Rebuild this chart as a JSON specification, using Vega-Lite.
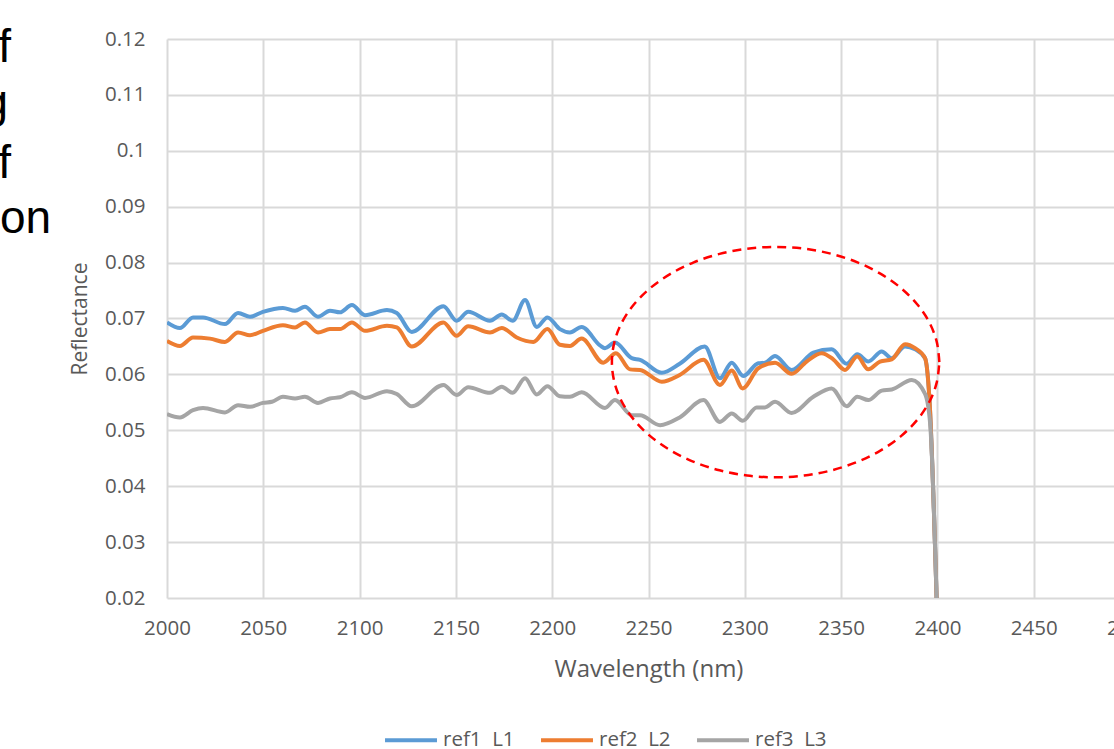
{
  "$schema": "https://vega.github.io/schema/vega-lite/v6.json",
  "autosize": {"type": "none"},
  "padding": {"left": 167, "top": 39, "right": 0, "bottom": 151},
  "width": 963,
  "height": 559,
  "background": "white",
  "config": {
    "view": {"stroke": null},
    "axis": {
      "labelFont": "Open Sans", "labelFontSize": 20.5, "labelColor": "#595959",
      "titleFont": "Open Sans", "titleFontSize": 21, "titleColor": "#595959", "titleFontWeight": "normal",
      "gridColor": "#D9D9D9", "gridWidth": 2, "domain": false, "ticks": false,
      "labelFlush": false, "labelBound": false, "labelOverlap": false
    }
  },
  "datasets": {
    "spectra": [
      {"wl": 2000, "r": 0.0693, "s": "ref1\u00a0\u00a0L1"},
      {"wl": 2006.7, "r": 0.0683, "s": "ref1\u00a0\u00a0L1"},
      {"wl": 2013.5, "r": 0.0702, "s": "ref1\u00a0\u00a0L1"},
      {"wl": 2018.7, "r": 0.0702, "s": "ref1\u00a0\u00a0L1"},
      {"wl": 2030.1, "r": 0.0690, "s": "ref1\u00a0\u00a0L1"},
      {"wl": 2036.9, "r": 0.0710, "s": "ref1\u00a0\u00a0L1"},
      {"wl": 2043.1, "r": 0.0703, "s": "ref1\u00a0\u00a0L1"},
      {"wl": 2049.8, "r": 0.0712, "s": "ref1\u00a0\u00a0L1"},
      {"wl": 2060.2, "r": 0.0719, "s": "ref1\u00a0\u00a0L1"},
      {"wl": 2066.5, "r": 0.0714, "s": "ref1\u00a0\u00a0L1"},
      {"wl": 2071.6, "r": 0.0721, "s": "ref1\u00a0\u00a0L1"},
      {"wl": 2078.4, "r": 0.0703, "s": "ref1\u00a0\u00a0L1"},
      {"wl": 2084.6, "r": 0.0714, "s": "ref1\u00a0\u00a0L1"},
      {"wl": 2089.8, "r": 0.0711, "s": "ref1\u00a0\u00a0L1"},
      {"wl": 2096.0, "r": 0.0724, "s": "ref1\u00a0\u00a0L1"},
      {"wl": 2102.8, "r": 0.0706, "s": "ref1\u00a0\u00a0L1"},
      {"wl": 2114.2, "r": 0.0715, "s": "ref1\u00a0\u00a0L1"},
      {"wl": 2119.3, "r": 0.0710, "s": "ref1\u00a0\u00a0L1"},
      {"wl": 2127.1, "r": 0.0676, "s": "ref1\u00a0\u00a0L1"},
      {"wl": 2143.5, "r": 0.0722, "s": "ref1\u00a0\u00a0L1"},
      {"wl": 2150.4, "r": 0.0696, "s": "ref1\u00a0\u00a0L1"},
      {"wl": 2156.4, "r": 0.0712, "s": "ref1\u00a0\u00a0L1"},
      {"wl": 2167.7, "r": 0.0696, "s": "ref1\u00a0\u00a0L1"},
      {"wl": 2173.8, "r": 0.0707, "s": "ref1\u00a0\u00a0L1"},
      {"wl": 2179.5, "r": 0.0696, "s": "ref1\u00a0\u00a0L1"},
      {"wl": 2185.9, "r": 0.0733, "s": "ref1\u00a0\u00a0L1"},
      {"wl": 2192.0, "r": 0.0685, "s": "ref1\u00a0\u00a0L1"},
      {"wl": 2197.5, "r": 0.0702, "s": "ref1\u00a0\u00a0L1"},
      {"wl": 2204.0, "r": 0.0681, "s": "ref1\u00a0\u00a0L1"},
      {"wl": 2209.2, "r": 0.0675, "s": "ref1\u00a0\u00a0L1"},
      {"wl": 2215.3, "r": 0.0685, "s": "ref1\u00a0\u00a0L1"},
      {"wl": 2224.8, "r": 0.0652, "s": "ref1\u00a0\u00a0L1"},
      {"wl": 2227.4, "r": 0.0647, "s": "ref1\u00a0\u00a0L1"},
      {"wl": 2232.6, "r": 0.0657, "s": "ref1\u00a0\u00a0L1"},
      {"wl": 2241.3, "r": 0.0629, "s": "ref1\u00a0\u00a0L1"},
      {"wl": 2245.6, "r": 0.0626, "s": "ref1\u00a0\u00a0L1"},
      {"wl": 2256.9, "r": 0.0603, "s": "ref1\u00a0\u00a0L1"},
      {"wl": 2266.2, "r": 0.0619, "s": "ref1\u00a0\u00a0L1"},
      {"wl": 2279.2, "r": 0.0650, "s": "ref1\u00a0\u00a0L1"},
      {"wl": 2287.1, "r": 0.0593, "s": "ref1\u00a0\u00a0L1"},
      {"wl": 2293.2, "r": 0.0621, "s": "ref1\u00a0\u00a0L1"},
      {"wl": 2299.2, "r": 0.0597, "s": "ref1\u00a0\u00a0L1"},
      {"wl": 2307.0, "r": 0.0620, "s": "ref1\u00a0\u00a0L1"},
      {"wl": 2310.5, "r": 0.0621, "s": "ref1\u00a0\u00a0L1"},
      {"wl": 2315.7, "r": 0.0633, "s": "ref1\u00a0\u00a0L1"},
      {"wl": 2324.3, "r": 0.0608, "s": "ref1\u00a0\u00a0L1"},
      {"wl": 2335.6, "r": 0.0639, "s": "ref1\u00a0\u00a0L1"},
      {"wl": 2345.1, "r": 0.0645, "s": "ref1\u00a0\u00a0L1"},
      {"wl": 2352.9, "r": 0.0619, "s": "ref1\u00a0\u00a0L1"},
      {"wl": 2358.4, "r": 0.0636, "s": "ref1\u00a0\u00a0L1"},
      {"wl": 2364.1, "r": 0.0623, "s": "ref1\u00a0\u00a0L1"},
      {"wl": 2371.1, "r": 0.0641, "s": "ref1\u00a0\u00a0L1"},
      {"wl": 2376.3, "r": 0.0629, "s": "ref1\u00a0\u00a0L1"},
      {"wl": 2383.2, "r": 0.0650, "s": "ref1\u00a0\u00a0L1"},
      {"wl": 2388.4, "r": 0.0645, "s": "ref1\u00a0\u00a0L1"},
      {"wl": 2393.6, "r": 0.0629, "s": "ref1\u00a0\u00a0L1"},
      {"wl": 2395.8, "r": 0.0560, "s": "ref1\u00a0\u00a0L1"},
      {"wl": 2400, "r": 0.0150, "s": "ref1\u00a0\u00a0L1"},

      {"wl": 2000, "r": 0.0660, "s": "ref2\u00a0\u00a0L2"},
      {"wl": 2006.7, "r": 0.0651, "s": "ref2\u00a0\u00a0L2"},
      {"wl": 2013.5, "r": 0.0666, "s": "ref2\u00a0\u00a0L2"},
      {"wl": 2022.3, "r": 0.0664, "s": "ref2\u00a0\u00a0L2"},
      {"wl": 2030.1, "r": 0.0658, "s": "ref2\u00a0\u00a0L2"},
      {"wl": 2036.9, "r": 0.0675, "s": "ref2\u00a0\u00a0L2"},
      {"wl": 2043.1, "r": 0.0670, "s": "ref2\u00a0\u00a0L2"},
      {"wl": 2049.8, "r": 0.0678, "s": "ref2\u00a0\u00a0L2"},
      {"wl": 2060.2, "r": 0.0688, "s": "ref2\u00a0\u00a0L2"},
      {"wl": 2066.5, "r": 0.0684, "s": "ref2\u00a0\u00a0L2"},
      {"wl": 2071.6, "r": 0.0693, "s": "ref2\u00a0\u00a0L2"},
      {"wl": 2078.4, "r": 0.0675, "s": "ref2\u00a0\u00a0L2"},
      {"wl": 2084.6, "r": 0.0681, "s": "ref2\u00a0\u00a0L2"},
      {"wl": 2089.8, "r": 0.0681, "s": "ref2\u00a0\u00a0L2"},
      {"wl": 2096.0, "r": 0.0693, "s": "ref2\u00a0\u00a0L2"},
      {"wl": 2102.8, "r": 0.0678, "s": "ref2\u00a0\u00a0L2"},
      {"wl": 2114.2, "r": 0.0687, "s": "ref2\u00a0\u00a0L2"},
      {"wl": 2119.3, "r": 0.0684, "s": "ref2\u00a0\u00a0L2"},
      {"wl": 2127.1, "r": 0.0650, "s": "ref2\u00a0\u00a0L2"},
      {"wl": 2143.5, "r": 0.0693, "s": "ref2\u00a0\u00a0L2"},
      {"wl": 2150.4, "r": 0.0669, "s": "ref2\u00a0\u00a0L2"},
      {"wl": 2156.4, "r": 0.0686, "s": "ref2\u00a0\u00a0L2"},
      {"wl": 2167.7, "r": 0.0675, "s": "ref2\u00a0\u00a0L2"},
      {"wl": 2173.8, "r": 0.0683, "s": "ref2\u00a0\u00a0L2"},
      {"wl": 2181.6, "r": 0.0666, "s": "ref2\u00a0\u00a0L2"},
      {"wl": 2190.2, "r": 0.0658, "s": "ref2\u00a0\u00a0L2"},
      {"wl": 2197.5, "r": 0.0681, "s": "ref2\u00a0\u00a0L2"},
      {"wl": 2204.0, "r": 0.0653, "s": "ref2\u00a0\u00a0L2"},
      {"wl": 2209.2, "r": 0.0651, "s": "ref2\u00a0\u00a0L2"},
      {"wl": 2215.3, "r": 0.0664, "s": "ref2\u00a0\u00a0L2"},
      {"wl": 2226.5, "r": 0.0621, "s": "ref2\u00a0\u00a0L2"},
      {"wl": 2233.1, "r": 0.0638, "s": "ref2\u00a0\u00a0L2"},
      {"wl": 2240.4, "r": 0.0609, "s": "ref2\u00a0\u00a0L2"},
      {"wl": 2245.6, "r": 0.0608, "s": "ref2\u00a0\u00a0L2"},
      {"wl": 2256.9, "r": 0.0587, "s": "ref2\u00a0\u00a0L2"},
      {"wl": 2266.2, "r": 0.0599, "s": "ref2\u00a0\u00a0L2"},
      {"wl": 2278.5, "r": 0.0626, "s": "ref2\u00a0\u00a0L2"},
      {"wl": 2287.1, "r": 0.0581, "s": "ref2\u00a0\u00a0L2"},
      {"wl": 2293.2, "r": 0.0607, "s": "ref2\u00a0\u00a0L2"},
      {"wl": 2298.9, "r": 0.0575, "s": "ref2\u00a0\u00a0L2"},
      {"wl": 2307.0, "r": 0.0611, "s": "ref2\u00a0\u00a0L2"},
      {"wl": 2315.7, "r": 0.0621, "s": "ref2\u00a0\u00a0L2"},
      {"wl": 2324.3, "r": 0.0601, "s": "ref2\u00a0\u00a0L2"},
      {"wl": 2332.1, "r": 0.0623, "s": "ref2\u00a0\u00a0L2"},
      {"wl": 2339.9, "r": 0.0638, "s": "ref2\u00a0\u00a0L2"},
      {"wl": 2345.9, "r": 0.0627, "s": "ref2\u00a0\u00a0L2"},
      {"wl": 2352.0, "r": 0.0608, "s": "ref2\u00a0\u00a0L2"},
      {"wl": 2358.4, "r": 0.0632, "s": "ref2\u00a0\u00a0L2"},
      {"wl": 2364.1, "r": 0.0609, "s": "ref2\u00a0\u00a0L2"},
      {"wl": 2370.2, "r": 0.0623, "s": "ref2\u00a0\u00a0L2"},
      {"wl": 2376.3, "r": 0.0627, "s": "ref2\u00a0\u00a0L2"},
      {"wl": 2383.2, "r": 0.0654, "s": "ref2\u00a0\u00a0L2"},
      {"wl": 2388.4, "r": 0.0647, "s": "ref2\u00a0\u00a0L2"},
      {"wl": 2393.6, "r": 0.0629, "s": "ref2\u00a0\u00a0L2"},
      {"wl": 2395.8, "r": 0.0560, "s": "ref2\u00a0\u00a0L2"},
      {"wl": 2400, "r": 0.0150, "s": "ref2\u00a0\u00a0L2"},

      {"wl": 2000, "r": 0.0529, "s": "ref3\u00a0\u00a0L3"},
      {"wl": 2006.7, "r": 0.0523, "s": "ref3\u00a0\u00a0L3"},
      {"wl": 2013.5, "r": 0.0536, "s": "ref3\u00a0\u00a0L3"},
      {"wl": 2018.7, "r": 0.0540, "s": "ref3\u00a0\u00a0L3"},
      {"wl": 2030.1, "r": 0.0532, "s": "ref3\u00a0\u00a0L3"},
      {"wl": 2036.9, "r": 0.0545, "s": "ref3\u00a0\u00a0L3"},
      {"wl": 2043.1, "r": 0.0542, "s": "ref3\u00a0\u00a0L3"},
      {"wl": 2049.8, "r": 0.0549, "s": "ref3\u00a0\u00a0L3"},
      {"wl": 2054.5, "r": 0.0551, "s": "ref3\u00a0\u00a0L3"},
      {"wl": 2060.2, "r": 0.0560, "s": "ref3\u00a0\u00a0L3"},
      {"wl": 2066.5, "r": 0.0557, "s": "ref3\u00a0\u00a0L3"},
      {"wl": 2071.6, "r": 0.0560, "s": "ref3\u00a0\u00a0L3"},
      {"wl": 2078.4, "r": 0.0549, "s": "ref3\u00a0\u00a0L3"},
      {"wl": 2084.6, "r": 0.0557, "s": "ref3\u00a0\u00a0L3"},
      {"wl": 2089.8, "r": 0.0559, "s": "ref3\u00a0\u00a0L3"},
      {"wl": 2096.0, "r": 0.0568, "s": "ref3\u00a0\u00a0L3"},
      {"wl": 2102.8, "r": 0.0558, "s": "ref3\u00a0\u00a0L3"},
      {"wl": 2114.2, "r": 0.0570, "s": "ref3\u00a0\u00a0L3"},
      {"wl": 2119.3, "r": 0.0565, "s": "ref3\u00a0\u00a0L3"},
      {"wl": 2127.1, "r": 0.0543, "s": "ref3\u00a0\u00a0L3"},
      {"wl": 2143.5, "r": 0.0581, "s": "ref3\u00a0\u00a0L3"},
      {"wl": 2150.4, "r": 0.0563, "s": "ref3\u00a0\u00a0L3"},
      {"wl": 2156.4, "r": 0.0577, "s": "ref3\u00a0\u00a0L3"},
      {"wl": 2167.7, "r": 0.0567, "s": "ref3\u00a0\u00a0L3"},
      {"wl": 2173.8, "r": 0.0578, "s": "ref3\u00a0\u00a0L3"},
      {"wl": 2179.5, "r": 0.0567, "s": "ref3\u00a0\u00a0L3"},
      {"wl": 2185.9, "r": 0.0593, "s": "ref3\u00a0\u00a0L3"},
      {"wl": 2192.0, "r": 0.0564, "s": "ref3\u00a0\u00a0L3"},
      {"wl": 2197.5, "r": 0.0579, "s": "ref3\u00a0\u00a0L3"},
      {"wl": 2204.0, "r": 0.0561, "s": "ref3\u00a0\u00a0L3"},
      {"wl": 2209.2, "r": 0.0560, "s": "ref3\u00a0\u00a0L3"},
      {"wl": 2215.3, "r": 0.0568, "s": "ref3\u00a0\u00a0L3"},
      {"wl": 2227.4, "r": 0.0540, "s": "ref3\u00a0\u00a0L3"},
      {"wl": 2232.6, "r": 0.0554, "s": "ref3\u00a0\u00a0L3"},
      {"wl": 2241.3, "r": 0.0527, "s": "ref3\u00a0\u00a0L3"},
      {"wl": 2245.6, "r": 0.0527, "s": "ref3\u00a0\u00a0L3"},
      {"wl": 2256.0, "r": 0.0509, "s": "ref3\u00a0\u00a0L3"},
      {"wl": 2266.2, "r": 0.0523, "s": "ref3\u00a0\u00a0L3"},
      {"wl": 2278.5, "r": 0.0554, "s": "ref3\u00a0\u00a0L3"},
      {"wl": 2287.1, "r": 0.0515, "s": "ref3\u00a0\u00a0L3"},
      {"wl": 2293.2, "r": 0.0530, "s": "ref3\u00a0\u00a0L3"},
      {"wl": 2298.9, "r": 0.0517, "s": "ref3\u00a0\u00a0L3"},
      {"wl": 2306.2, "r": 0.0541, "s": "ref3\u00a0\u00a0L3"},
      {"wl": 2310.5, "r": 0.0541, "s": "ref3\u00a0\u00a0L3"},
      {"wl": 2315.7, "r": 0.0551, "s": "ref3\u00a0\u00a0L3"},
      {"wl": 2324.3, "r": 0.0531, "s": "ref3\u00a0\u00a0L3"},
      {"wl": 2335.6, "r": 0.0560, "s": "ref3\u00a0\u00a0L3"},
      {"wl": 2345.1, "r": 0.0575, "s": "ref3\u00a0\u00a0L3"},
      {"wl": 2352.9, "r": 0.0543, "s": "ref3\u00a0\u00a0L3"},
      {"wl": 2358.4, "r": 0.0560, "s": "ref3\u00a0\u00a0L3"},
      {"wl": 2364.1, "r": 0.0554, "s": "ref3\u00a0\u00a0L3"},
      {"wl": 2371.1, "r": 0.0571, "s": "ref3\u00a0\u00a0L3"},
      {"wl": 2376.3, "r": 0.0573, "s": "ref3\u00a0\u00a0L3"},
      {"wl": 2386.7, "r": 0.0590, "s": "ref3\u00a0\u00a0L3"},
      {"wl": 2393.6, "r": 0.0565, "s": "ref3\u00a0\u00a0L3"},
      {"wl": 2396.2, "r": 0.0513, "s": "ref3\u00a0\u00a0L3"},
      {"wl": 2400, "r": 0.0150, "s": "ref3\u00a0\u00a0L3"}
    ],
    "ellipse": [
      {"i": 0, "x": 2401, "y": 0.0622}, {"i": 1, "x": 2399.7, "y": 0.06578}, {"i": 2, "x": 2395.9, "y": 0.06925},
      {"i": 3, "x": 2389.6, "y": 0.0725}, {"i": 4, "x": 2381.1, "y": 0.07544}, {"i": 5, "x": 2370.6, "y": 0.07798},
      {"i": 6, "x": 2358.5, "y": 0.08004}, {"i": 7, "x": 2345.1, "y": 0.08156}, {"i": 8, "x": 2330.8, "y": 0.08249},
      {"i": 9, "x": 2316, "y": 0.0828}, {"i": 10, "x": 2301.2, "y": 0.08249}, {"i": 11, "x": 2286.9, "y": 0.08156},
      {"i": 12, "x": 2273.5, "y": 0.08004}, {"i": 13, "x": 2261.4, "y": 0.07798}, {"i": 14, "x": 2250.9, "y": 0.07544},
      {"i": 15, "x": 2242.4, "y": 0.0725}, {"i": 16, "x": 2236.1, "y": 0.06925}, {"i": 17, "x": 2232.3, "y": 0.06578},
      {"i": 18, "x": 2231, "y": 0.0622}, {"i": 19, "x": 2232.3, "y": 0.05862}, {"i": 20, "x": 2236.1, "y": 0.05515},
      {"i": 21, "x": 2242.4, "y": 0.0519}, {"i": 22, "x": 2250.9, "y": 0.04896}, {"i": 23, "x": 2261.4, "y": 0.04642},
      {"i": 24, "x": 2273.5, "y": 0.04436}, {"i": 25, "x": 2286.9, "y": 0.04284}, {"i": 26, "x": 2301.2, "y": 0.04191},
      {"i": 27, "x": 2316, "y": 0.0416}, {"i": 28, "x": 2330.8, "y": 0.04191}, {"i": 29, "x": 2345.1, "y": 0.04284},
      {"i": 30, "x": 2358.5, "y": 0.04436}, {"i": 31, "x": 2370.6, "y": 0.04642}, {"i": 32, "x": 2381.1, "y": 0.04896},
      {"i": 33, "x": 2389.6, "y": 0.0519}, {"i": 34, "x": 2395.9, "y": 0.05515}, {"i": 35, "x": 2399.7, "y": 0.05862},
      {"i": 36, "x": 2401, "y": 0.0622}
    ],
    "sidetext": [
      {"x": 1919.0, "y": 0.1159, "t": "of"},
      {"x": 1917.5, "y": 0.1060, "t": "ing"},
      {"x": 1919.0, "y": 0.0951, "t": "of"},
      {"x": 1939.8, "y": 0.0853, "t": "ion"}
    ]
  },
  "layer": [
    {
      "data": {"name": "spectra"},
      "mark": {"type": "line", "strokeWidth": 4, "interpolate": "monotone", "clip": true},
      "encoding": {
        "x": {
          "field": "wl", "type": "quantitative",
          "scale": {"domain": [2000, 2500], "nice": false, "zero": false},
          "axis": {
            "title": "Wavelength (nm)", "titleFontSize": 24,
            "values": [2000, 2050, 2100, 2150, 2200, 2250, 2300, 2350, 2400, 2450, 2500],
            "format": "d", "labelPadding": 20, "titlePadding": 19
          }
        },
        "y": {
          "field": "r", "type": "quantitative",
          "scale": {"domain": [0.02, 0.12], "nice": false, "zero": false},
          "axis": {
            "title": "Reflectance",
            "values": [0.02, 0.03, 0.04, 0.05, 0.06, 0.07, 0.08, 0.09, 0.1, 0.11, 0.12],
            "format": "~g", "labelPadding": 22, "titlePadding": 14
          }
        },
        "color": {
          "field": "s", "type": "nominal",
          "scale": {
            "domain": ["ref1\u00a0\u00a0L1", "ref2\u00a0\u00a0L2", "ref3\u00a0\u00a0L3"],
            "range": ["#5B9BD5", "#ED7D31", "#A5A5A5"]
          },
          "legend": {
            "title": null, "orient": "none", "direction": "horizontal",
            "legendX": 216, "legendY": 673,
            "symbolType": "stroke", "symbolSize": 2700, "symbolStrokeWidth": 4,
            "labelFont": "Open Sans", "labelFontSize": 20.5, "labelColor": "#595959",
            "labelOffset": 4, "columnPadding": 18
          }
        }
      }
    },
    {
      "data": {"name": "ellipse"},
      "mark": {"type": "line", "color": "#FF0000", "strokeWidth": 2.5, "strokeDash": [9, 6], "interpolate": "cardinal"},
      "encoding": {
        "x": {"field": "x", "type": "quantitative"},
        "y": {"field": "y", "type": "quantitative"},
        "order": {"field": "i", "type": "quantitative"}
      }
    },
    {
      "data": {"name": "sidetext"},
      "mark": {"type": "text", "align": "right", "baseline": "alphabetic", "font": "Liberation Sans", "fontSize": 46, "color": "#000000"},
      "encoding": {
        "x": {"field": "x", "type": "quantitative"},
        "y": {"field": "y", "type": "quantitative"},
        "text": {"field": "t"}
      }
    }
  ]
}
